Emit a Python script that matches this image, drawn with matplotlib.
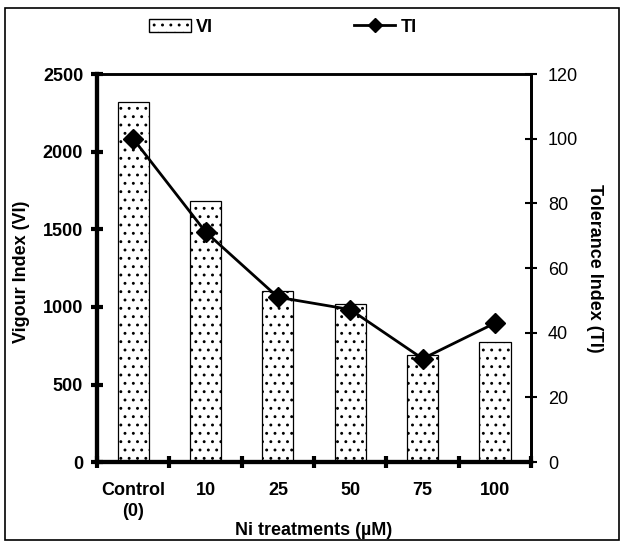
import matplotlib
matplotlib.use("Agg")
import matplotlib.pyplot as plt
from matplotlib.lines import Line2D
from matplotlib.patches import Patch, Rectangle
import numpy as np

plt.rcParams['font.family'] = ['Liberation Sans', 'DejaVu Sans']
plt.rcParams['hatch.linewidth'] = 0.9
plt.rcParams['hatch.color'] = '#333333'

categories = ["Control\n(0)", "10", "25", "50", "75", "100"]
vi = [2320, 1682, 1102, 1022, 690, 772]
ti = [100, 71.2, 51, 47.2, 32, 43]

fig = plt.figure(figsize=(6.22, 5.45), dpi=100)
ax = fig.add_axes([0.156, 0.152, 0.698, 0.712])
ax2 = ax.twinx()

x = np.arange(len(categories))
ax.bar(x, vi, width=0.43, color="white", edgecolor="black", linewidth=0.9,
       hatch="..", zorder=2)
ax2.plot(x, ti, color="black", lw=2, marker="D", ms=10, zorder=3)

ax.set_xlim(-0.5, len(categories) - 0.5)
ax.set_ylim(0, 2500)
ax2.set_ylim(0, 120)
ax.set_yticks(range(0, 2501, 500))
ax2.set_yticks(range(0, 121, 20))

ax.set_xticks(x)
ax.set_xticklabels(categories, fontweight="bold", fontsize=13, linespacing=1.35)
ax.tick_params(axis="x", which="major", length=0, pad=14)
ax.set_xticks(np.arange(-0.5, len(categories)), minor=True)
ax.tick_params(axis="x", which="minor", direction="inout", length=8, width=3)
ax.tick_params(axis="y", direction="inout", length=8, width=3, labelsize=13, pad=6)
for lab in ax.get_yticklabels():
    lab.set_fontweight("bold")
ax2.tick_params(axis="y", direction="inout", length=8, width=1.5, labelsize=13, pad=8)

for a in (ax, ax2):
    a.spines["left"].set_linewidth(3)
    a.spines["bottom"].set_linewidth(3)
    a.spines["top"].set_linewidth(1.8)
    a.spines["right"].set_linewidth(2)

ax.set_ylabel("Vigour Index (VI)", fontweight="bold", fontsize=13)
ax.yaxis.set_label_coords(-0.155, 0.49)
ax2.set_ylabel("Tolerance Index (TI)", fontweight="bold", fontsize=13,
               rotation=-90, labelpad=18)
ax.set_xlabel("Ni treatments (\u00b5M)", fontweight="bold", fontsize=13)
ax.xaxis.set_label_coords(0.5, -0.155)

handles = [Patch(facecolor="white", edgecolor="black", hatch="..", label="VI"),
           Line2D([0], [0], color="black", lw=2, marker="D", ms=7, label="TI")]
fig.legend(handles=handles, loc="center left", bbox_to_anchor=(0.225, 0.95), ncol=2,
           frameon=False, prop={"weight": "bold", "size": 13}, borderpad=0,
           columnspacing=7.8, handlelength=2.3, handletextpad=0.3)

fig.patches.append(Rectangle((0.008, 0.009), 0.987, 0.976, transform=fig.transFigure,
                             fill=False, edgecolor="black", lw=1.2))

fig.savefig("out.png", dpi=100)
